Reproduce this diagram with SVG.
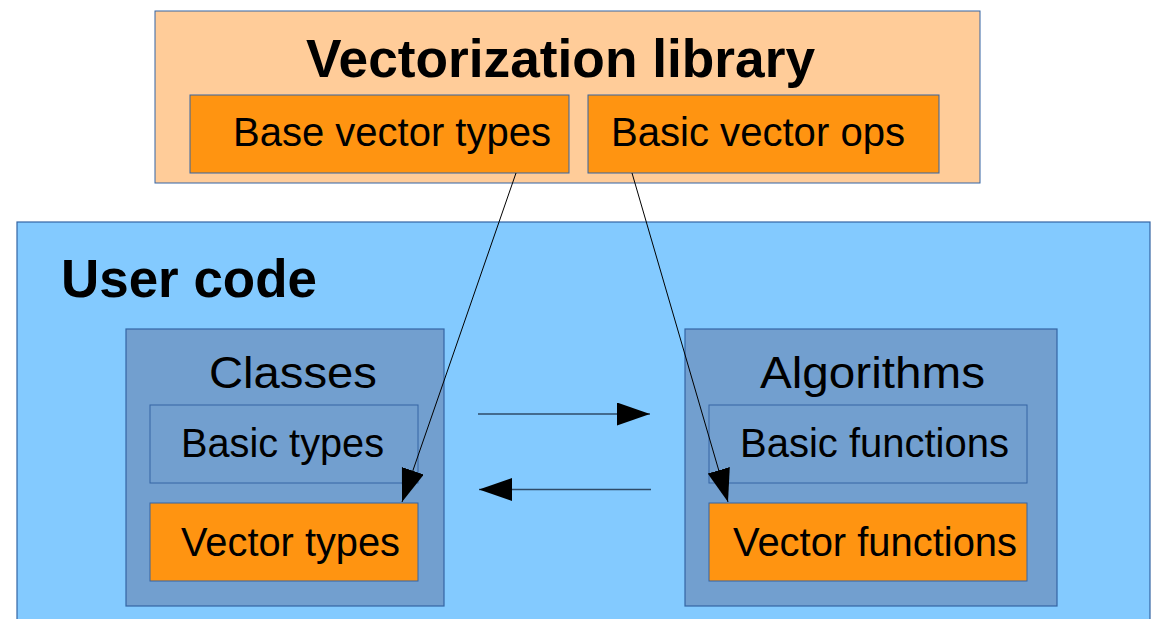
<svg xmlns="http://www.w3.org/2000/svg" width="1153" height="619" viewBox="0 0 1153 619">
  <style>
    .lib { fill: #ffcc99; stroke: #3465a4; stroke-width: 1; }
    .user { fill: #83caff; stroke: #3465a4; stroke-width: 1.2; }
    .group { fill: #729fcf; stroke: #3465a4; stroke-width: 1.2; }
    .plain { fill: #729fcf; stroke: #3465a4; stroke-width: 1; }
    .vec { fill: #ff9411; stroke: #3465a4; stroke-width: 1; }
    text { font-family: "Liberation Sans", Arial, sans-serif; fill: #000; }
    .title { font-size: 54px; font-weight: bold; }
    .head { font-size: 45px; }
    .item { font-size: 40px; }
    .dep { fill: none; stroke: #000; stroke-width: 1; }
    .flow { fill: none; stroke: #2e4b68; stroke-width: 1.6; }
  </style>
  <defs>
    <marker id="arrow" markerUnits="userSpaceOnUse" markerWidth="34" markerHeight="24" refX="33" refY="11.5" orient="auto" viewBox="0 0 34 24">
      <path d="M0,0 L33,11.5 L0,23 Z" fill="#000"/>
    </marker>
  </defs>

  <!-- Vectorization library -->
  <g id="library">
    <rect class="lib" x="155" y="11" width="825" height="172"/>
    <text class="title" x="306" y="77" textLength="509" lengthAdjust="spacingAndGlyphs">Vectorization library</text>
  </g>
  <g id="base-vector-types">
    <rect class="vec" x="190" y="95" width="379" height="78"/>
    <text class="item" x="233" y="146" textLength="318" lengthAdjust="spacingAndGlyphs">Base vector types</text>
  </g>
  <g id="basic-vector-ops">
    <rect class="vec" x="588" y="95" width="351" height="78"/>
    <text class="item" x="611" y="146" textLength="294" lengthAdjust="spacingAndGlyphs">Basic vector ops</text>
  </g>

  <!-- User code -->
  <g id="user-code">
    <rect class="user" x="17" y="222" width="1133" height="410"/>
    <text class="title" x="61" y="297" textLength="256" lengthAdjust="spacingAndGlyphs">User code</text>
  </g>

  <g id="classes">
    <rect class="group" x="126" y="329" width="318" height="277"/>
    <text class="head" x="209" y="388" textLength="168" lengthAdjust="spacingAndGlyphs">Classes</text>
  </g>
  <g id="basic-types">
    <rect class="plain" x="150" y="405" width="268" height="78"/>
    <text class="item" x="181" y="457" textLength="203" lengthAdjust="spacingAndGlyphs">Basic types</text>
  </g>
  <g id="vector-types">
    <rect class="vec" x="150" y="503" width="268" height="78"/>
    <text class="item" x="181" y="556" textLength="219" lengthAdjust="spacingAndGlyphs">Vector types</text>
  </g>

  <g id="algorithms">
    <rect class="group" x="685" y="329" width="372" height="277"/>
    <text class="head" x="760" y="388" textLength="225" lengthAdjust="spacingAndGlyphs">Algorithms</text>
  </g>
  <g id="basic-functions">
    <rect class="plain" x="709" y="405" width="318" height="78"/>
    <text class="item" x="740" y="457" textLength="269" lengthAdjust="spacingAndGlyphs">Basic functions</text>
  </g>
  <g id="vector-functions">
    <rect class="vec" x="709" y="503" width="318" height="78"/>
    <text class="item" x="733" y="556" textLength="284" lengthAdjust="spacingAndGlyphs">Vector functions</text>
  </g>

  <!-- Connectors -->
  <g id="connectors">
    <line class="dep" x1="516" y1="173" x2="402" y2="502" marker-end="url(#arrow)"/>
    <line class="dep" x1="632" y1="173" x2="728" y2="502" marker-end="url(#arrow)"/>
    <line class="flow" x1="478" y1="414" x2="650" y2="414" marker-end="url(#arrow)"/>
    <line class="flow" x1="651" y1="489.5" x2="479" y2="489.5" marker-end="url(#arrow)"/>
  </g>
</svg>
